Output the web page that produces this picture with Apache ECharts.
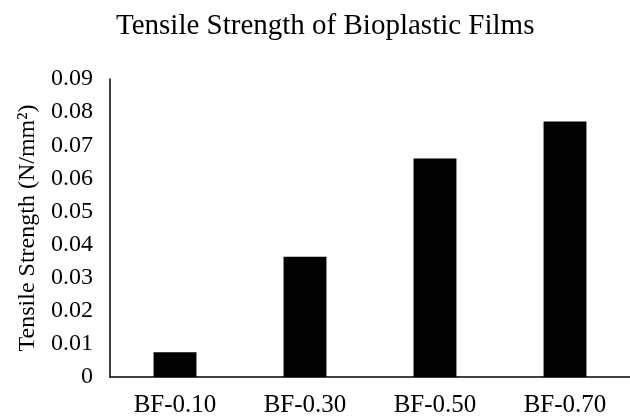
<!DOCTYPE html>
<html>
<head>
<meta charset="utf-8">
<script src="https://cdn.jsdelivr.net/npm/echarts@6/dist/echarts.min.js"></script>
<style>
  html, body { margin: 0; padding: 0; background: #ffffff; }
  #chart { width: 630px; height: 418px; }
</style>
</head>
<body>
<div id="chart"></div>
<script>
// Tensile strength measured for each bioplastic film formulation
const categories = ['BF-0.10', 'BF-0.30', 'BF-0.50', 'BF-0.70'];
const tensileStrength = [0.0075, 0.0363, 0.066, 0.0772];
const yTicks = { min: 0, max: 0.09, interval: 0.01 };

const serif = '"Liberation Serif", "Times New Roman", serif';

const chart = echarts.init(document.getElementById('chart'), null, { renderer: 'canvas' });
chart.setOption({
  backgroundColor: '#ffffff',
  animation: false,
  title: {
    text: 'Tensile Strength of Bioplastic Films',
    left: 111,
    top: 7,
    textStyle: { fontFamily: serif, fontSize: 29, fontWeight: 'normal', color: '#000000' }
  },
  grid: { left: 110, right: -10, top: 79, bottom: 40 },
  xAxis: {
    type: 'category',
    data: categories,
    axisLine: { lineStyle: { color: '#000000', width: 1.5 } },
    axisTick: { show: false },
    axisLabel: { fontFamily: serif, fontSize: 25, color: '#000000', margin: 16 }
  },
  yAxis: {
    type: 'value',
    min: yTicks.min,
    max: yTicks.max,
    interval: yTicks.interval,
    name: 'Tensile Strength (N/mm²)',
    nameLocation: 'middle',
    nameGap: 70,
    nameTextStyle: { fontFamily: serif, fontSize: 24, color: '#000000' },
    axisLine: { show: true, lineStyle: { color: '#000000', width: 1.5 } },
    axisTick: { show: false },
    splitLine: { show: false },
    axisLabel: {
      fontFamily: serif, fontSize: 24, color: '#000000', margin: 17,
      formatter: v => (v === 0 ? '0' : v.toFixed(2))
    }
  },
  series: [{
    type: 'bar',
    data: tensileStrength,
    barWidth: '33%',
    itemStyle: { color: '#000000' }
  }]
});
</script>
</body>
</html>
